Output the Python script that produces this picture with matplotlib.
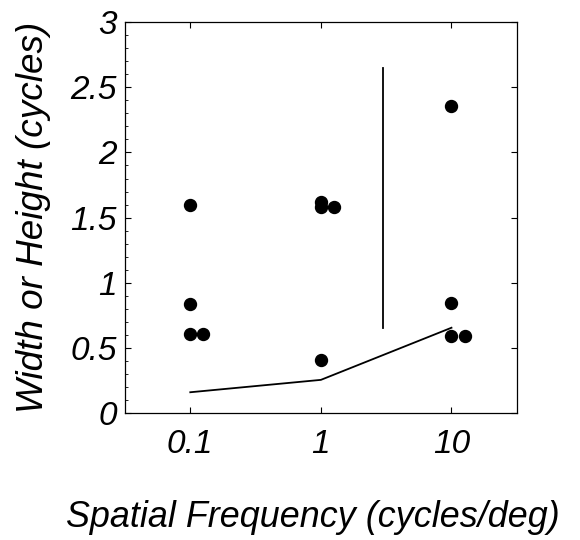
import matplotlib
matplotlib.use("Agg")
import matplotlib.pyplot as plt
import numpy as np

# Data
pts_x = [0.1, 0.1, 0.1, 0.126, 1, 1, 1.26, 1, 10, 10, 10, 12.6]
pts_y = [1.60, 0.835, 0.605, 0.605, 1.62, 1.585, 1.58, 0.405, 2.36, 0.845, 0.595, 0.595]
line_x = [0.1, 1, 10]
line_y = [0.16, 0.255, 0.655]
vline_x = [3, 3]
vline_y = [0.655, 2.645]
xticks = [0.1, 1, 10]
xtick_labels = ["0.1", "1", "10"]
yticks = [0, 0.5, 1, 1.5, 2, 2.5, 3]
ytick_labels = ["0", "0.5", "1", "1.5", "2", "2.5", "3"]

plt.rcParams['font.family'] = ['Liberation Sans', 'DejaVu Sans']
fig = plt.figure(figsize=(5.8, 5.4), dpi=100)
ax = fig.add_axes([0.2155, 0.235, 0.6755, 0.724])
ax.set_xscale('log')
ax.plot(line_x, line_y, color='black', lw=1.3)
ax.plot(vline_x, vline_y, color='black', lw=1.3)
ax.plot(pts_x, pts_y, 'o', color='black', markersize=8.6, linestyle='none')
ax.set_xlim(10**-1.5, 10**1.5)
ax.set_ylim(0, 3)
ax.set_xticks(xticks)
ax.set_xticklabels(xtick_labels, fontsize=24, style='italic')
ax.xaxis.set_minor_locator(matplotlib.ticker.NullLocator())
ax.set_yticks(yticks)
ax.set_yticklabels(ytick_labels, fontsize=24, style='italic')
ax.set_yticks(np.arange(0, 3.01, 0.1), minor=True)
ax.tick_params(axis='both', which='major', direction='in', length=4, width=0.8,
               top=True, right=True)
ax.tick_params(axis='y', which='major', pad=5.8)
ax.tick_params(axis='x', which='major', pad=11.5)
ax.tick_params(axis='y', which='minor', direction='in', length=2.5, width=0.6, right=False)
for s in ax.spines.values():
    s.set_linewidth(0.9)
ax.set_xlabel('Spatial Frequency (cycles/deg)', fontsize=25.8, style='italic')
ax.set_ylabel('Width or Height (cycles)', fontsize=26.6, style='italic')
ax.xaxis.set_label_coords(0.48, -(500 - 413) / 391)
ax.yaxis.set_label_coords(-(125 - 51) / 392, 0.5)
fig.savefig('out.png', dpi=100)
